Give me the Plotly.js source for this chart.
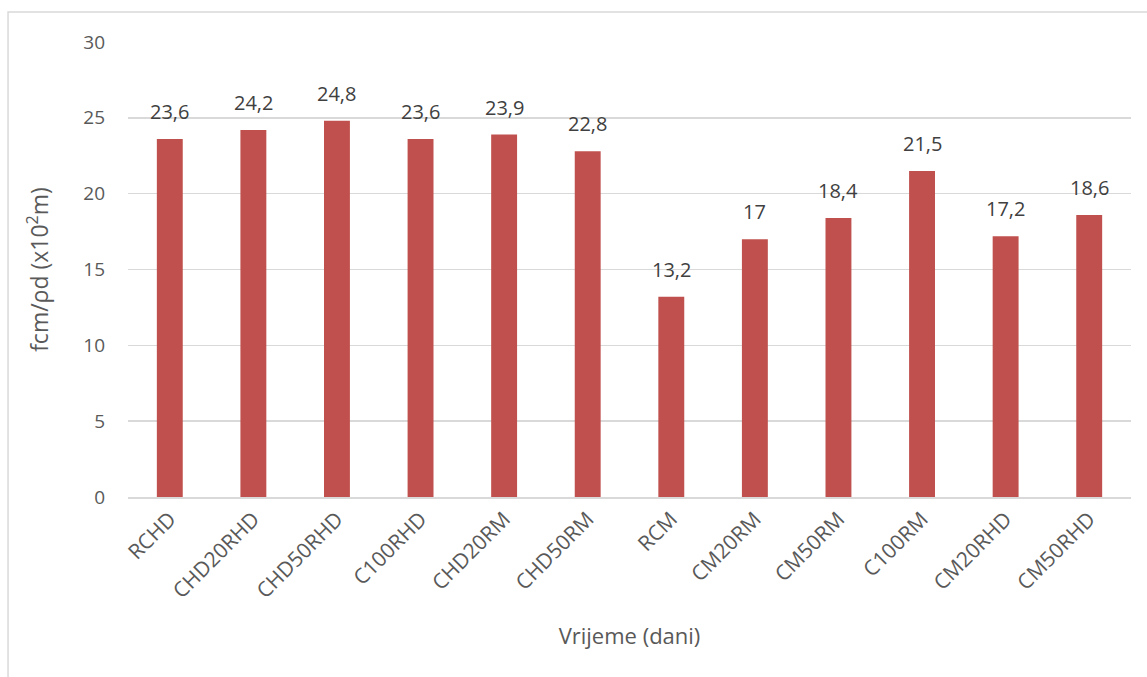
<!DOCTYPE html>
<html>
<head>
<meta charset="utf-8">
<script src="https://cdn.plot.ly/plotly-3.0.1.min.js"></script>
<style>html,body{margin:0;padding:0;background:#fff;}#chart{width:1147px;height:677px;}</style>
</head>
<body>
<div id="chart"></div>
<script>
const categories = ["RCHD","CHD20RHD","CHD50RHD","C100RHD","CHD20RM","CHD50RM","RCM","CM20RM","CM50RM","C100RM","CM20RHD","CM50RHD"];
const values = [23.6, 24.2, 24.8, 23.6, 23.9, 22.8, 13.2, 17, 18.4, 21.5, 17.2, 18.6];
const yTicks = [0, 5, 10, 15, 20, 25, 30];

const labels = values.map(v => String(v).replace('.', ','));
const fontFam = "Open Sans, Liberation Sans, sans-serif";

const trace = {
  type: 'bar',
  x: categories,
  y: values,
  marker: {color: '#C0504D'},
  hoverinfo: 'x+y'
};

const annotations = categories.map((c, i) => ({
  x: c, y: values[i], xref: 'x', yref: 'y',
  text: labels[i], showarrow: false,
  yanchor: 'bottom', yshift: 12,
  font: {family: fontFam, size: 20, color: '#404040'}
}));

const layout = {
  width: 1147, height: 677,
  margin: {l: 128, r: 16, t: 42, b: 180},
  paper_bgcolor: '#fff', plot_bgcolor: '#fff',
  bargap: 0.69,
  showlegend: false,
  font: {family: fontFam, color: '#595959'},
  xaxis: {
    type: 'category',
    tickangle: -45,
    tickfont: {family: fontFam, size: 21, color: '#595959'},
    showgrid: false,
    showline: true, linecolor: '#D9D9D9', linewidth: 1.5,
    ticks: '',
    title: {text: 'Vrijeme (dani)', font: {family: fontFam, size: 22, color: '#595959'}, standoff: 26},
    automargin: false
  },
  yaxis: {
    range: [0, 30],
    tickvals: yTicks,
    tickfont: {family: fontFam, size: 19, color: '#595959'},
    showgrid: true, gridcolor: '#D9D9D9', gridwidth: 1.5,
    zeroline: false,
    ticks: '', ticklen: 0,
    ticklabelstandoff: 22,
    title: {text: 'fcm/ρd (x10<sup>2</sup>m)', font: {family: fontFam, size: 23, color: '#595959'}, standoff: 28},
    automargin: false
  },
  annotations: annotations,
  shapes: [{
    type: 'rect', xref: 'paper', yref: 'paper',
    x0: -0.1196, x1: 1.05, y0: -0.5, y1: 1.066,
    line: {color: '#D9D9D9', width: 1.5}, fillcolor: 'rgba(0,0,0,0)', layer: 'below'
  }]
};

Plotly.newPlot('chart', [trace], layout, {displayModeBar: false, staticPlot: true});
</script>
</body>
</html>
